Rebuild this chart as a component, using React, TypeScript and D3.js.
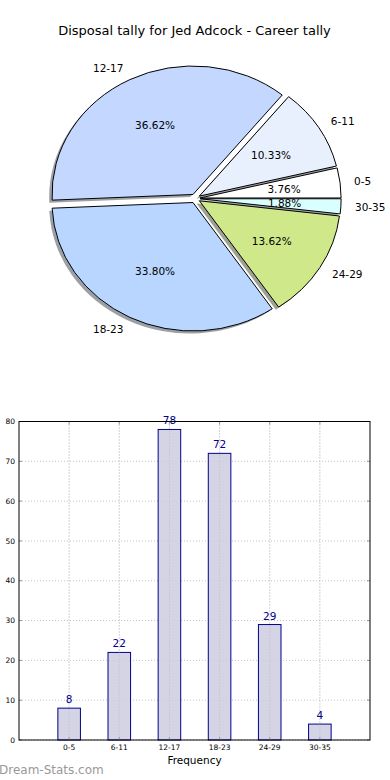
import React from "react";
import * as d3 from "d3";

const categories = ["0-5", "6-11", "12-17", "18-23", "24-29", "30-35"];
const counts = [8, 22, 78, 72, 29, 4];
const pieColors = ["#ffffff", "#e9f0fd", "#c4d8ff", "#b8d6ff", "#cfe98a", "#d9ffff"];
const yTicks = [0, 10, 20, 30, 40, 50, 60, 70, 80];
const title = "Disposal tally for Jed Adcock - Career tally";

const FONT = "DejaVu Sans, sans-serif";

function Pie() {
  const cx = 195.2, cy = 198.5, rx = 141, ry = 128.5, ex = 0.035;
  const total = d3.sum(counts);
  const arcs = d3.pie<number>().sort(null).startAngle(Math.PI / 2).endAngle(Math.PI / 2 - 2 * Math.PI)(counts);
  const arcGen = d3.arc<any>().innerRadius(0).outerRadius(1);
  const items = arcs.map((a, i) => {
    const mid = (a.startAngle + a.endAngle) / 2;
    const dx = Math.sin(mid), dy = -Math.cos(mid);
    const ox = cx + ex * rx * dx, oy = cy + ex * ry * dy;
    return { a, i, dx, dy, ox, oy };
  });
  const shadowColor = (c: string) => {
    const k = d3.rgb(c);
    return d3.rgb(k.r * 0.3, k.g * 0.3, k.b * 0.3).toString();
  };
  return (
    <g>
      {items.map(({ a, i, ox, oy }) => (
        <path key={"s" + i} d={arcGen(a) as string}
          transform={`translate(${ox - 0.02 * rx},${oy + 0.02 * ry}) scale(${rx},${ry})`}
          fill={shadowColor(pieColors[i])} opacity={0.5} stroke="none" />
      ))}
      {items.map(({ a, i, ox, oy }) => (
        <path key={"w" + i} d={arcGen(a) as string}
          transform={`translate(${ox},${oy}) scale(${rx},${ry})`}
          fill={pieColors[i]} stroke="#000" strokeWidth={1} vectorEffect="non-scaling-stroke" />
      ))}
      {items.map(({ i, dx, dy, ox, oy }) => {
        const lx = ox + 1.1 * rx * dx, ly = oy + 1.1 * ry * dy;
        return (
          <text key={"l" + i} x={lx} y={ly} dy="0.35em" fontSize={10.5} fontFamily={FONT}
            textAnchor={lx < cx ? "end" : "start"} fill="#000">{categories[i]}</text>
        );
      })}
      {items.map(({ i, dx, dy, ox, oy }) => (
        <text key={"p" + i} x={ox + 0.6 * rx * dx} y={oy + 0.6 * ry * dy} dy="0.35em" fontSize={10.5}
          fontFamily={FONT} textAnchor="middle" fill="#000">
          {((counts[i] / total) * 100).toFixed(2) + "%"}
        </text>
      ))}
    </g>
  );
}

function Bars() {
  const left = 19, right = 370, top = 421.5, bottom = 740;
  const x = d3.scaleLinear().domain([-1, 6]).range([left, right]);
  const y = d3.scaleLinear().domain([0, 80]).range([bottom, top]);
  const bw = x(0.45) - x(0);
  const grid = "#c4c4c4";
  return (
    <g>
      {yTicks.map((t) => (
        <line key={"gy" + t} x1={left} x2={right} y1={y(t)} y2={y(t)} stroke={grid} strokeDasharray="1,2" />
      ))}
      {categories.map((c, i) => (
        <line key={"gx" + i} x1={x(i)} x2={x(i)} y1={top} y2={bottom} stroke={grid} strokeDasharray="1,2" />
      ))}
      {counts.map((v, i) => (
        <rect key={"b" + i} x={x(i) - bw / 2} y={y(v)} width={bw} height={y(0) - y(v)}
          fill="#ccccdf" fillOpacity={0.85} stroke="#00008b" strokeWidth={1} />
      ))}
      {categories.map((c, i) => (
        <line key={"gx2" + i} x1={x(i)} x2={x(i)} y1={top} y2={bottom} stroke="#bbbbcc" strokeDasharray="1,2" opacity={0.6} />
      ))}
      {counts.map((v, i) => (
        <text key={"v" + i} x={x(i)} y={y(v) - 5} fontSize={10.5} fontFamily={FONT}
          textAnchor="middle" fill="#00008b">{v}</text>
      ))}
      {yTicks.map((t) => (
        <g key={"ty" + t}>
          <line x1={left} x2={left + 3} y1={y(t)} y2={y(t)} stroke="#999" />
          <line x1={right - 3} x2={right} y1={y(t)} y2={y(t)} stroke="#999" />
          <text x={15} y={y(t)} dy="0.35em" fontSize={7.5} fontFamily={FONT} textAnchor="end" fill="#000">{t}</text>
        </g>
      ))}
      {categories.map((c, i) => (
        <g key={"tx" + i}>
          <line x1={x(i)} x2={x(i)} y1={bottom} y2={bottom - 3} stroke="#999" />
          <line x1={x(i)} x2={x(i)} y1={top} y2={top + 3} stroke="#999" />
          <text x={x(i)} y={bottom + 7.7} dy="0.35em" fontSize={7.5} fontFamily={FONT} textAnchor="middle" fill="#000">{c}</text>
        </g>
      ))}
      <rect x={left} y={top} width={right - left} height={bottom - top} fill="none" stroke="#000" strokeWidth={1} />
      <text x={(left + right) / 2} y={760} dy="0.35em" fontSize={10.5} fontFamily={FONT} textAnchor="middle" fill="#000">Frequency</text>
    </g>
  );
}

export default function App() {
  return (
    <svg width={390} height={780} viewBox="0 0 390 780"
      style={{ position: "absolute", left: 0, top: 0, background: "#fff" }}>
      <rect x={0} y={0} width={390} height={780} fill="#fff" />
      <text x={194.5} y={30} dy="0.35em" fontSize={13} fontFamily={FONT} textAnchor="middle" fill="#000">{title}</text>
      <Pie />
      <Bars />
      <text x={-1} y={770} dy="0.35em" fontSize={12} fontFamily={FONT} fill="#999999">Dream-Stats.com</text>
    </svg>
  );
}
